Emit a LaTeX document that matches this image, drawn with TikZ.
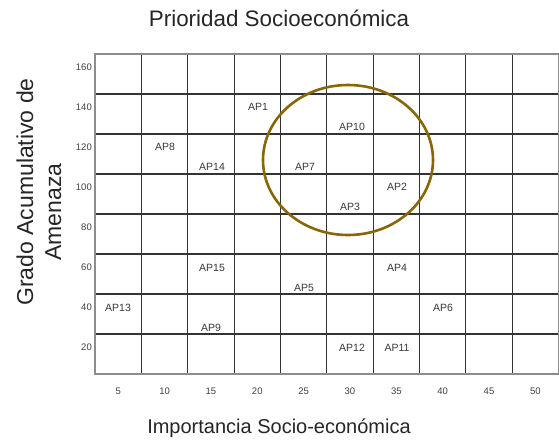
\documentclass[tikz,border=0pt]{standalone}
\usepackage{fontspec}
\setmainfont{Liberation Sans}
\usetikzlibrary{shapes.geometric}
\begin{document}
\begin{tikzpicture}[x=1pt,y=-1pt,
  gridline/.style={draw=black!80,line width=1.1pt},
  frameline/.style={draw=black!45,line width=1.6pt},
  aplab/.style={font=\fontsize{10.5}{12}\selectfont,text=black!78,inner sep=0pt},
  ticklab/.style={font=\fontsize{9.5}{11}\selectfont,text=black!75,inner sep=0pt},
  bigtitle/.style={font=\fontsize{20}{24}\selectfont,text=black!85,inner sep=0pt},
  ring/.style={draw={rgb,255:red,135;green,102;blue,6},line width=2.6pt}]
\useasboundingbox (0,0) rectangle (559,445);
\fill[white] (0,0) rectangle (559,445);
% grid
\foreach \i in {1,...,9} {
  \draw[gridline] ({95+\i*46.35},54) -- ({95+\i*46.35},374);
}
\foreach \j in {1,...,7} {
  \draw[gridline] (95,{54+\j*40}) -- (558.5,{54+\j*40});
}
\draw[frameline] (95,54) rectangle (558.5,374);
% y ticks
\foreach \v [count=\k from 0] in {160,140,120,100,80,60,40,20} {
  \node[ticklab,anchor=east] (yt\v) at (92,{67+\k*40}) {\v};
}
% x ticks
\foreach \v [count=\k from 0] in {5,10,15,20,25,30,35,40,45,50} {
  \node[ticklab] (xt\v) at ({118.2+\k*46.35},391) {\v};
}
% titles
\node[bigtitle,font=\fontsize{22.4}{24}\selectfont] (title) at (279,18) {Prioridad Socioeconómica};
\node[bigtitle] (xlabel) at (279,428) {Importancia Socio-económica};
\node[bigtitle,rotate=90,anchor=base,font=\fontsize{23}{27}\selectfont] (ylabel1) at (33,192) {Grado Acumulativo de};
\node[bigtitle,rotate=90,anchor=base,font=\fontsize{23}{27}\selectfont] (ylabel2) at (61,212) {Amenaza};
% ellipse
\node[ring,ellipse,minimum width=170pt,minimum height=150pt,inner sep=0pt] (circ) at (348,160) {};
% AP labels
\node[aplab] (ap1) at (258,107) {AP1};
\node[aplab] (ap8) at (165,147) {AP8};
\node[aplab] (ap14) at (212,167) {AP14};
\node[aplab] (ap7) at (305,167) {AP7};
\node[aplab] (ap10) at (352,127) {AP10};
\node[aplab] (ap2) at (397,187) {AP2};
\node[aplab] (ap3) at (350,207) {AP3};
\node[aplab] (ap15) at (212,268) {AP15};
\node[aplab] (ap13) at (118,308) {AP13};
\node[aplab] (ap9) at (211,328) {AP9};
\node[aplab] (ap5) at (304,288) {AP5};
\node[aplab] (ap4) at (397,268) {AP4};
\node[aplab] (ap6) at (443,308) {AP6};
\node[aplab] (ap12) at (352,348) {AP12};
\node[aplab] (ap11) at (397,348) {AP11};
\end{tikzpicture}
\end{document}
